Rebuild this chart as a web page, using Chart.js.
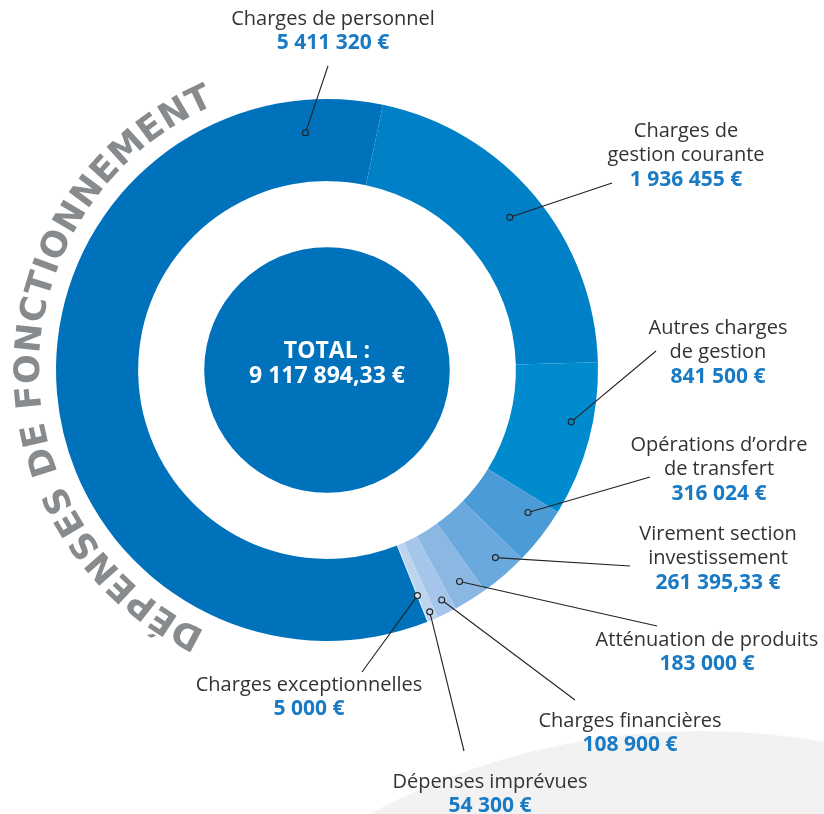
<!DOCTYPE html>
<html>
<head>
<meta charset="utf-8">
<script src="https://cdn.jsdelivr.net/npm/chart.js@4.4.0/dist/chart.umd.min.js"></script>
<style>
  html, body { margin: 0; padding: 0; background: #fff; }
  canvas { display: block; }
</style>
</head>
<body>
<canvas id="grafDepenses" width="824" height="814"></canvas>
<script>
// Données du graphique
const categories = [
  ['Charges de personnel'],
  ['Charges de', 'gestion courante'],
  ['Autres charges', 'de gestion'],
  ['Opérations d’ordre', 'de transfert'],
  ['Virement section', 'investissement'],
  ['Atténuation de produits'],
  ['Charges financières'],
  ['Dépenses imprévues'],
  ['Charges exceptionnelles']
];
const montants = [5411320, 1936455, 841500, 316024, 261395.33, 183000, 108900, 54300, 5000];
const couleurs = ['#0072bc', '#0080c6', '#008bcf', '#4b9bd6', '#6aa9dd', '#8bb8e3', '#a5c6ea', '#bdd4ef', '#d6e4f4'];
const titreArc = 'DÉPENSES DE FONCTIONNEMENT';

// placement des étiquettes (centre du texte, fin du trait, point dans la part)
const etiquettes = [
  { x: 333, y: 19,  fin: [328, 66],  pa: 0.92, pr: 0.60 },
  { x: 686, y: 131, fin: [612, 183], pa: 0.50, pr: 0.60 },
  { x: 718, y: 328, fin: [656, 351], pa: 0.41, pr: 0.74 },
  { x: 719, y: 445, fin: [650, 477], pa: 0.30, pr: 0.70 },
  { x: 718, y: 534, fin: [630, 566], pa: 0.39, pr: 0.77 },
  { x: 707, y: 640, fin: [657, 626], pa: 0.49, pr: 0.74 },
  { x: 630, y: 721, fin: [575, 700], pa: 0.44, pr: 0.83 },
  { x: 490, y: 782, fin: [464, 751], pa: 0.50, pr: 0.90 },
  { x: 309, y: 685, fin: [362, 672], pa: 0.50, pr: 0.66 }
];

function formatEuro(v) {
  let [ent, dec] = v.toFixed(2).split('.');
  ent = ent.replace(/\B(?=(\d{3})+(?!\d))/g, ' ');
  return ent + (dec === '00' ? '' : ',' + dec) + ' €';
}

const total = montants.reduce((a, b) => a + b, 0);

const decor = {
  id: 'decor',
  beforeDraw(chart) {
    const c = chart.ctx;
    c.save();
    c.fillStyle = '#f2f2f2';
    c.beginPath();
    c.arc(700, 1431, 700, 0, Math.PI * 2);
    c.fill();
    c.restore();
  },
  afterDraw(chart) {
    const c = chart.ctx;
    const arcs = chart.getDatasetMeta(0).data;
    const cx = arcs[0].x, cy = arcs[0].y;
    const rIn = arcs[0].innerRadius, rOut = arcs[0].outerRadius;
    c.save();

    // disque central
    c.fillStyle = couleurs[0];
    c.beginPath();
    c.arc(cx, cy, rIn * 0.65, 0, Math.PI * 2);
    c.fill();
    c.fillStyle = '#fff';
    c.textAlign = 'center';
    c.textBaseline = 'middle';
    c.font = 'bold 23px "Open Sans"';
    c.fillText('TOTAL :', cx, cy - 19);
    c.fillText(formatEuro(total), cx, cy + 6);

    // texte courbe
    c.font = 'bold 35px "DejaVu Sans"';
    c.fillStyle = '#888b8e';
    const rTxt = rOut + 17;
    const a0 = (205 - 90) * Math.PI / 180, a1 = (337 - 90) * Math.PI / 180;
    const largeurs = [...titreArc].map(ch => c.measureText(ch).width);
    const somme = largeurs.reduce((a, b) => a + b, 0);
    const esp = ((a1 - a0) * rTxt - somme) / (largeurs.length - 1);
    let pos = a0 * rTxt;
    c.textBaseline = 'alphabetic';
    [...titreArc].forEach((ch, i) => {
      const ang = (pos + largeurs[i] / 2) / rTxt;
      c.save();
      c.translate(cx + rTxt * Math.cos(ang), cy + rTxt * Math.sin(ang));
      c.rotate(ang + Math.PI / 2);
      c.fillText(ch, 0, 0);
      c.restore();
      pos += largeurs[i] + esp;
    });

    // étiquettes et traits
    arcs.forEach((arc, i) => {
      const e = etiquettes[i];
      const ang = arc.startAngle + e.pa * (arc.endAngle - arc.startAngle);
      const r = arc.innerRadius + e.pr * (arc.outerRadius - arc.innerRadius);
      const px = cx + r * Math.cos(ang), py = cy + r * Math.sin(ang);
      c.strokeStyle = '#222';
      c.lineWidth = 1.1;
      c.beginPath();
      c.moveTo(e.fin[0], e.fin[1]);
      c.lineTo(px, py);
      c.stroke();
      c.beginPath();
      c.arc(px, py, 3, 0, Math.PI * 2);
      c.fillStyle = couleurs[i];
      c.fill();
      c.stroke();

      const lignes = categories[i];
      c.textAlign = 'center';
      c.textBaseline = 'middle';
      c.fillStyle = '#333';
      c.font = '20px "Open Sans"';
      lignes.forEach((l, k) => c.fillText(l, e.x, e.y + k * 24.5));
      c.fillStyle = '#1a7bc4';
      c.font = 'bold 21px "Open Sans"';
      c.fillText(formatEuro(montants[i]), e.x, e.y + lignes.length * 24.5);
    });
    c.restore();
  }
};

const ctx = document.getElementById('grafDepenses').getContext('2d');
const grafDepenses = new Chart(ctx, {
  type: 'doughnut',
  data: {
    labels: categories,
    datasets: [{
      data: montants,
      backgroundColor: couleurs,
      borderWidth: 0
    }]
  },
  options: {
    responsive: false,
    animation: false,
    events: [],
    rotation: 158.25,
    cutout: '69.7%',
    layout: { padding: { left: 56, top: 99, right: 226, bottom: 173 } },
    plugins: {
      legend: { display: false },
      tooltip: { enabled: false }
    }
  },
  plugins: [decor]
});
</script>
</body>
</html>
